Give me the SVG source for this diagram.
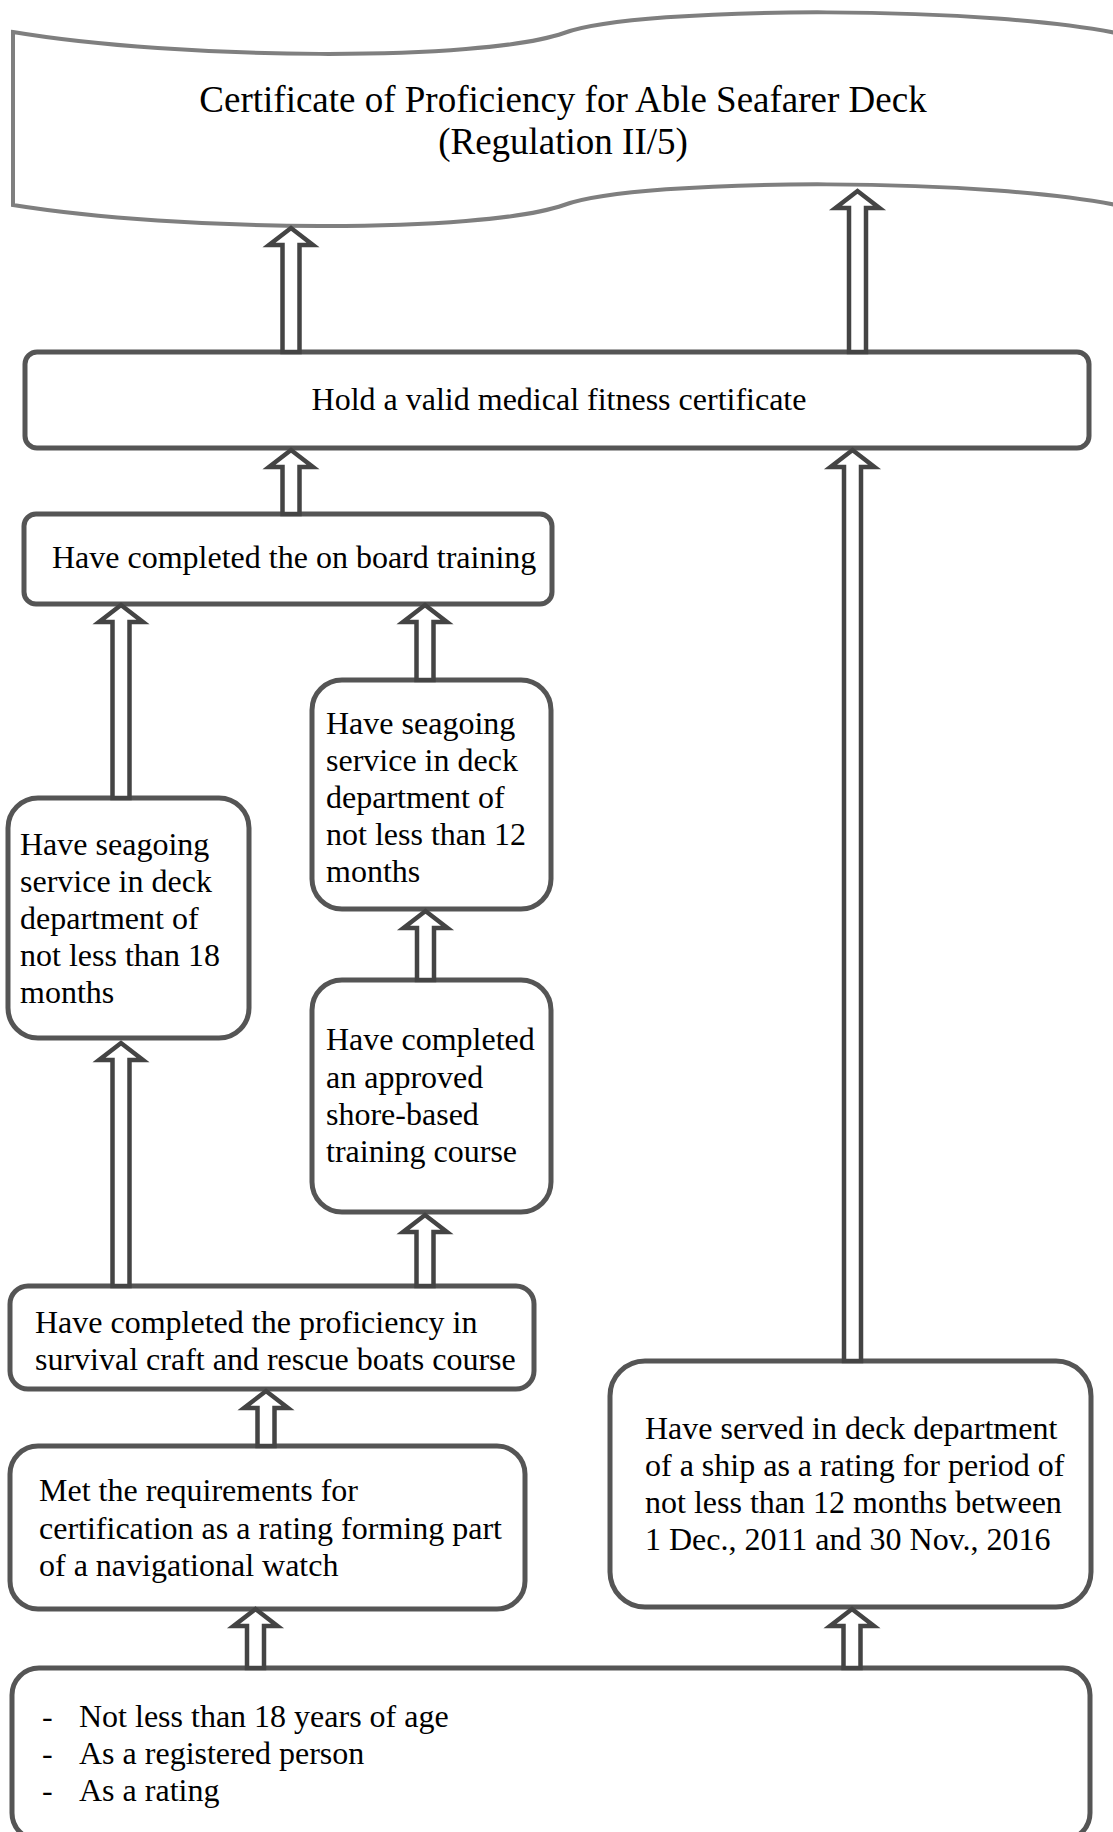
<svg xmlns="http://www.w3.org/2000/svg" width="1113" height="1832" viewBox="0 0 1113 1832">
<style>
.box{fill:#fff;stroke:#555;stroke-width:5}
.banner{fill:#fff;stroke:#7f7f7f;stroke-width:4}
.arr{fill:#fff;stroke:#444;stroke-width:4.5;stroke-linejoin:miter}
text{font-family:"Liberation Serif","Times New Roman",serif;font-size:32px;fill:#000}
.title{font-size:37px;text-anchor:middle}
.c{text-anchor:middle}
</style>
<rect width="1113" height="1832" fill="#fff"/>
<g id="banner">
<path class="banner" d="M 13 32 C 180 60, 480 62, 564 33 C 640 5, 1000 5, 1130 36 L 1130 208 C 1000 177, 640 177, 564 205 C 480 234, 180 232, 13 205 Z"/>
<text class="title" x="563" y="112">Certificate of Proficiency for Able Seafarer Deck</text>
<text class="title" x="563" y="154">(Regulation II/5)</text>
</g>
<g id="medical">
<rect class="box" x="25" y="352" width="1064" height="96" rx="12"/>
<text class="c" x="559" y="410">Hold a valid medical fitness certificate</text>
</g>
<g id="onboard">
<rect class="box" x="24" y="514" width="528" height="90" rx="12"/>
<text x="52" y="568">Have completed the on board training</text>
</g>
<g id="sea18">
<rect class="box" x="8" y="798" width="241" height="240" rx="30"/>
<text x="20" y="855">Have seagoing</text>
<text x="20" y="892">service in deck</text>
<text x="20" y="929">department of</text>
<text x="20" y="966">not less than 18</text>
<text x="20" y="1003">months</text>
</g>
<g id="sea12">
<rect class="box" x="312" y="680" width="239" height="229" rx="30"/>
<text x="326" y="734">Have seagoing</text>
<text x="326" y="771">service in deck</text>
<text x="326" y="808">department of</text>
<text x="326" y="845">not less than 12</text>
<text x="326" y="882">months</text>
</g>
<g id="shore">
<rect class="box" x="312" y="980" width="239" height="232" rx="30"/>
<text x="326" y="1050">Have completed</text>
<text x="326" y="1088">an approved</text>
<text x="326" y="1125">shore-based</text>
<text x="326" y="1162">training course</text>
</g>
<g id="survival">
<rect class="box" x="10" y="1286" width="524" height="103" rx="18"/>
<text x="35" y="1333">Have completed the proficiency in</text>
<text x="35" y="1370">survival craft and rescue boats course</text>
</g>
<g id="rating">
<rect class="box" x="10" y="1446" width="515" height="163" rx="28"/>
<text x="39" y="1501">Met the requirements for</text>
<text x="39" y="1539">certification as a rating forming part</text>
<text x="39" y="1576">of a navigational watch</text>
</g>
<g id="served">
<rect class="box" x="610" y="1361" width="481" height="246" rx="35"/>
<text x="645" y="1439">Have served in deck department</text>
<text x="645" y="1476">of a ship as a rating for period of</text>
<text x="645" y="1513">not less than 12 months between</text>
<text x="645" y="1550">1 Dec., 2011 and 30 Nov., 2016</text>
</g>
<g id="basic">
<rect class="box" x="12" y="1668" width="1078" height="172" rx="27"/>
<text x="42" y="1727">-</text>
<text x="79" y="1727">Not less than 18 years of age</text>
<text x="42" y="1764">-</text>
<text x="79" y="1764">As a registered person</text>
<text x="42" y="1801">-</text>
<text x="79" y="1801">As a rating</text>
</g>
<g id="connectors">
<polygon class="arr" points="282.5,352 282.5,245 269,245 291,228 313,245 299.5,245 299.5,352"/>
<polygon class="arr" points="849,352 849,208 835.5,208 857.5,191 879.5,208 866,208 866,352"/>
<polygon class="arr" points="282.5,514 282.5,467 269,467 291,450 313,467 299.5,467 299.5,514"/>
<polygon class="arr" points="844,1361 844,467 830.5,467 852.5,450 874.5,467 861,467 861,1361"/>
<polygon class="arr" points="112.5,798 112.5,622 99,622 121,605 143,622 129.5,622 129.5,798"/>
<polygon class="arr" points="416.5,680 416.5,622 403,622 425,605 447,622 433.5,622 433.5,680"/>
<polygon class="arr" points="417,980 417,928 403.5,928 425.5,911 447.5,928 434,928 434,980"/>
<polygon class="arr" points="112.5,1286 112.5,1060 99,1060 121,1043 143,1060 129.5,1060 129.5,1286"/>
<polygon class="arr" points="416.5,1286 416.5,1232 403,1232 425,1215 447,1232 433.5,1232 433.5,1286"/>
<polygon class="arr" points="257.5,1446 257.5,1408 244,1408 266,1391 288,1408 274.5,1408 274.5,1446"/>
<polygon class="arr" points="247,1668 247,1626 233.5,1626 255.5,1609 277.5,1626 264,1626 264,1668"/>
<polygon class="arr" points="843.5,1668 843.5,1626 830,1626 852,1609 874,1626 860.5,1626 860.5,1668"/>
</g>
</svg>
